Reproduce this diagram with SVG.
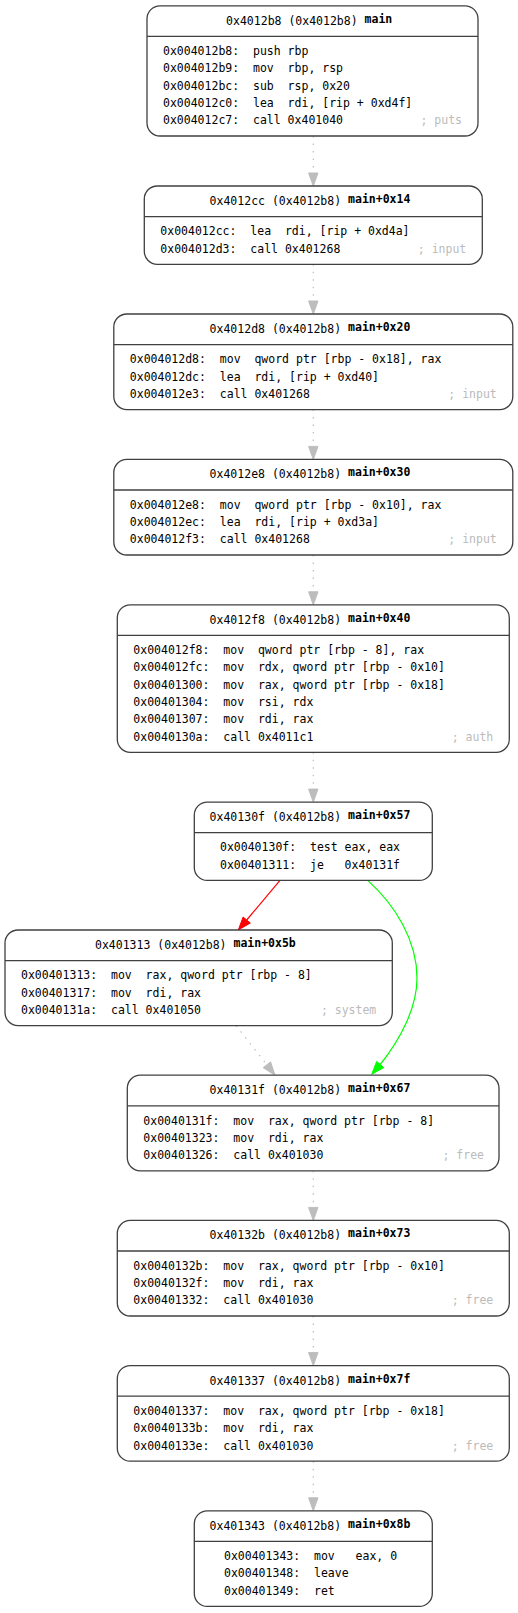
<svg xmlns="http://www.w3.org/2000/svg" width="518" height="1613" viewBox="0 0 518 1613" xml:space="preserve">
<style>
.box{fill:#fff;stroke:#404040;stroke-width:1.3}
.div{stroke:#404040;stroke-width:1.3}
text{font-family:"DejaVu Sans Mono",monospace;font-size:11.5px;fill:#000;white-space:pre}
.b{font-weight:bold}
.c{fill:#bbbbbb}
.e{fill:none;stroke:#bdbdbd;stroke-width:1.2;stroke-dasharray:1.5,6}
.ah{fill:#bdbdbd;stroke:#bdbdbd;stroke-width:1}
</style>
<rect width="518" height="1613" fill="#fff"/>
<g id="connectors">
<path class="e" d="M313.3,136 L313.3,173"/><polygon class="ah" points="308.6,173 318,173 313.3,186"/>
<path class="e" d="M313.3,264.3 L313.3,301"/><polygon class="ah" points="308.6,301 318,301 313.3,314"/>
<path class="e" d="M313.3,409.6 L313.3,446.4"/><polygon class="ah" points="308.6,446.4 318,446.4 313.3,459.4"/>
<path class="e" d="M313.3,555 L313.3,591.8"/><polygon class="ah" points="308.6,591.8 318,591.8 313.3,604.8"/>
<path class="e" d="M313.3,752.3 L313.3,789.1"/><polygon class="ah" points="308.6,789.1 318,789.1 313.3,802.1"/>
<path d="M280,880.4 L246.7,920" fill="none" stroke="#ff0000" stroke-width="1.2"/><polygon points="250.3,923 243.1,917 238.3,930" fill="#ff0000" stroke="#ff0000" stroke-width="1"/>
<path d="M367.7,880.4 C395,905 417,940 417,978 C417,1008 400,1040 380.2,1064.5" fill="none" stroke="#00ff00" stroke-width="1.2"/><polygon points="383.8,1067.6 376.7,1061.4 371.7,1074.3" fill="#00ff00" stroke="#00ff00" stroke-width="1"/>
<path class="e" d="M236,1025.6 L266.9,1064.8"/><polygon class="ah" points="270.6,1061.9 263.2,1067.7 275,1075.2"/>
<path class="e" d="M313.3,1170.8 L313.3,1207.4"/><polygon class="ah" points="308.6,1207.4 318,1207.4 313.3,1220.4"/>
<path class="e" d="M313.3,1316 L313.3,1352.6"/><polygon class="ah" points="308.6,1352.6 318,1352.6 313.3,1365.6"/>
<path class="e" d="M313.3,1461.2 L313.3,1497.8"/><polygon class="ah" points="308.6,1497.8 318,1497.8 313.3,1510.8"/>
</g>
<g id="n1">
<rect class="box" x="147" y="5.8" width="331" height="130.2" rx="13"/>
<line class="div" x1="147" y1="36.4" x2="478" y2="36.4"/>
<text xml:space="preserve" x="309.2" y="24.8" text-anchor="middle">0x4012b8 (0x4012b8) <tspan class="b" dy="-2">main</tspan></text>
<text xml:space="preserve" x="163" y="55.1">0x004012b8:  push rbp</text>
<text xml:space="preserve" x="163" y="72.4">0x004012b9:  mov  rbp, rsp</text>
<text xml:space="preserve" x="163" y="89.7">0x004012bc:  sub  rsp, 0x20</text>
<text xml:space="preserve" x="163" y="107">0x004012c0:  lea  rdi, [rip + 0xd4f]</text>
<text xml:space="preserve" x="163" y="124.3">0x004012c7:  call 0x401040</text>
<text class="c" x="462" y="124.3" text-anchor="end">; puts</text>
</g>
<g id="n2">
<rect class="box" x="144.3" y="186" width="338" height="78.3" rx="13"/>
<line class="div" x1="144.3" y1="216.6" x2="482.3" y2="216.6"/>
<text xml:space="preserve" x="310" y="205" text-anchor="middle">0x4012cc (0x4012b8) <tspan class="b" dy="-2">main+0x14</tspan></text>
<text xml:space="preserve" x="160.3" y="235.3">0x004012cc:  lea  rdi, [rip + 0xd4a]</text>
<text xml:space="preserve" x="160.3" y="252.6">0x004012d3:  call 0x401268</text>
<text class="c" x="466.3" y="252.6" text-anchor="end">; input</text>
</g>
<g id="n3">
<rect class="box" x="113.8" y="314" width="399" height="95.6" rx="13"/>
<line class="div" x1="113.8" y1="344.6" x2="512.8" y2="344.6"/>
<text xml:space="preserve" x="310" y="333" text-anchor="middle">0x4012d8 (0x4012b8) <tspan class="b" dy="-2">main+0x20</tspan></text>
<text xml:space="preserve" x="129.8" y="363.3">0x004012d8:  mov  qword ptr [rbp - 0x18], rax</text>
<text xml:space="preserve" x="129.8" y="380.6">0x004012dc:  lea  rdi, [rip + 0xd40]</text>
<text xml:space="preserve" x="129.8" y="397.9">0x004012e3:  call 0x401268</text>
<text class="c" x="496.8" y="397.9" text-anchor="end">; input</text>
</g>
<g id="n4">
<rect class="box" x="113.8" y="459.4" width="399" height="95.6" rx="13"/>
<line class="div" x1="113.8" y1="490" x2="512.8" y2="490"/>
<text xml:space="preserve" x="310" y="478.4" text-anchor="middle">0x4012e8 (0x4012b8) <tspan class="b" dy="-2">main+0x30</tspan></text>
<text xml:space="preserve" x="129.8" y="508.7">0x004012e8:  mov  qword ptr [rbp - 0x10], rax</text>
<text xml:space="preserve" x="129.8" y="526">0x004012ec:  lea  rdi, [rip + 0xd3a]</text>
<text xml:space="preserve" x="129.8" y="543.3">0x004012f3:  call 0x401268</text>
<text class="c" x="496.8" y="543.3" text-anchor="end">; input</text>
</g>
<g id="n5">
<rect class="box" x="117.3" y="604.8" width="392" height="147.5" rx="13"/>
<line class="div" x1="117.3" y1="635.4" x2="509.3" y2="635.4"/>
<text xml:space="preserve" x="310" y="623.8" text-anchor="middle">0x4012f8 (0x4012b8) <tspan class="b" dy="-2">main+0x40</tspan></text>
<text xml:space="preserve" x="133.3" y="654.1">0x004012f8:  mov  qword ptr [rbp - 8], rax</text>
<text xml:space="preserve" x="133.3" y="671.4">0x004012fc:  mov  rdx, qword ptr [rbp - 0x10]</text>
<text xml:space="preserve" x="133.3" y="688.7">0x00401300:  mov  rax, qword ptr [rbp - 0x18]</text>
<text xml:space="preserve" x="133.3" y="706">0x00401304:  mov  rsi, rdx</text>
<text xml:space="preserve" x="133.3" y="723.3">0x00401307:  mov  rdi, rax</text>
<text xml:space="preserve" x="133.3" y="740.6">0x0040130a:  call 0x4011c1</text>
<text class="c" x="493.3" y="740.6" text-anchor="end">; auth</text>
</g>
<g id="n6">
<rect class="box" x="194.3" y="802.1" width="238" height="78.3" rx="13"/>
<line class="div" x1="194.3" y1="832.7" x2="432.3" y2="832.7"/>
<text xml:space="preserve" x="310" y="821.1" text-anchor="middle">0x40130f (0x4012b8) <tspan class="b" dy="-2">main+0x57</tspan></text>
<text xml:space="preserve" x="220" y="851.4">0x0040130f:  test eax, eax</text>
<text xml:space="preserve" x="220" y="868.7">0x00401311:  je   0x40131f</text>
</g>
<g id="n7">
<rect class="box" x="5" y="930" width="387.3" height="95.6" rx="13"/>
<line class="div" x1="5" y1="960.6" x2="392.3" y2="960.6"/>
<text xml:space="preserve" x="195.4" y="949" text-anchor="middle">0x401313 (0x4012b8) <tspan class="b" dy="-2">main+0x5b</tspan></text>
<text xml:space="preserve" x="21" y="979.3">0x00401313:  mov  rax, qword ptr [rbp - 8]</text>
<text xml:space="preserve" x="21" y="996.6">0x00401317:  mov  rdi, rax</text>
<text xml:space="preserve" x="21" y="1013.9">0x0040131a:  call 0x401050</text>
<text class="c" x="376.3" y="1013.9" text-anchor="end">; system</text>
</g>
<g id="n8">
<rect class="box" x="127.3" y="1075.2" width="371.7" height="95.6" rx="13"/>
<line class="div" x1="127.3" y1="1105.8" x2="499" y2="1105.8"/>
<text xml:space="preserve" x="310" y="1094.2" text-anchor="middle">0x40131f (0x4012b8) <tspan class="b" dy="-2">main+0x67</tspan></text>
<text xml:space="preserve" x="143.3" y="1124.5">0x0040131f:  mov  rax, qword ptr [rbp - 8]</text>
<text xml:space="preserve" x="143.3" y="1141.8">0x00401323:  mov  rdi, rax</text>
<text xml:space="preserve" x="143.3" y="1159.1">0x00401326:  call 0x401030</text>
<text class="c" x="484" y="1159.1" text-anchor="end">; free</text>
</g>
<g id="n9">
<rect class="box" x="117.3" y="1220.4" width="392" height="95.6" rx="13"/>
<line class="div" x1="117.3" y1="1251" x2="509.3" y2="1251"/>
<text xml:space="preserve" x="310" y="1239.4" text-anchor="middle">0x40132b (0x4012b8) <tspan class="b" dy="-2">main+0x73</tspan></text>
<text xml:space="preserve" x="133.3" y="1269.7">0x0040132b:  mov  rax, qword ptr [rbp - 0x10]</text>
<text xml:space="preserve" x="133.3" y="1287">0x0040132f:  mov  rdi, rax</text>
<text xml:space="preserve" x="133.3" y="1304.3">0x00401332:  call 0x401030</text>
<text class="c" x="493.3" y="1304.3" text-anchor="end">; free</text>
</g>
<g id="n10">
<rect class="box" x="117.3" y="1365.6" width="392" height="95.6" rx="13"/>
<line class="div" x1="117.3" y1="1396.2" x2="509.3" y2="1396.2"/>
<text xml:space="preserve" x="310" y="1384.6" text-anchor="middle">0x401337 (0x4012b8) <tspan class="b" dy="-2">main+0x7f</tspan></text>
<text xml:space="preserve" x="133.3" y="1414.9">0x00401337:  mov  rax, qword ptr [rbp - 0x18]</text>
<text xml:space="preserve" x="133.3" y="1432.2">0x0040133b:  mov  rdi, rax</text>
<text xml:space="preserve" x="133.3" y="1449.5">0x0040133e:  call 0x401030</text>
<text class="c" x="493.3" y="1449.5" text-anchor="end">; free</text>
</g>
<g id="n11">
<rect class="box" x="194.3" y="1510.8" width="238" height="95.6" rx="13"/>
<line class="div" x1="194.3" y1="1541.4" x2="432.3" y2="1541.4"/>
<text xml:space="preserve" x="310" y="1529.8" text-anchor="middle">0x401343 (0x4012b8) <tspan class="b" dy="-2">main+0x8b</tspan></text>
<text xml:space="preserve" x="224" y="1560.1">0x00401343:  mov   eax, 0</text>
<text xml:space="preserve" x="224" y="1577.4">0x00401348:  leave</text>
<text xml:space="preserve" x="224" y="1594.7">0x00401349:  ret</text>
</g>
</svg>
